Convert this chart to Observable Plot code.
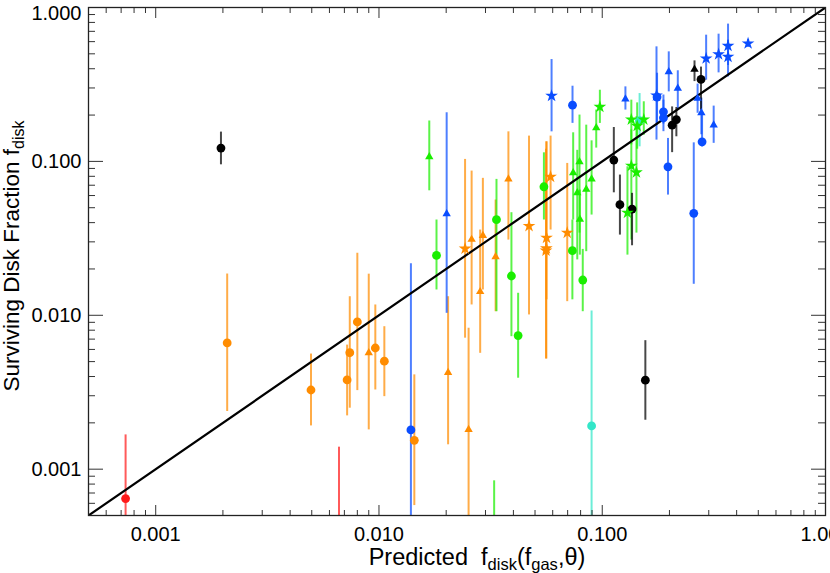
<!DOCTYPE html>
<html><head><meta charset="utf-8">
<script src="https://cdn.jsdelivr.net/npm/d3@7"></script>
<script src="https://cdn.jsdelivr.net/npm/@observablehq/plot@0.6"></script>
<style>
html,body{margin:0;padding:0;background:#fff;overflow:hidden;}
</style></head><body><div id="chart"></div>
<script>
// [predicted fdisk, surviving fdisk, lower error, upper error, marker]
const redPoints = [
  [0.000733, 0.000644, 0.0003, 0.00167, "circle"],
  [0.00662, 0.00025, 0.0001, 0.00139, "circle"]
];
const orangePoints = [
  [0.00209, 0.00661, 0.00237, 0.01854, "circle"],
  [0.00496, 0.00327, 0.00191, 0.0056, "circle"],
  [0.0072, 0.0038, 0.00222, 0.0064, "circle"],
  [0.0074, 0.00571, 0.00249, 0.0132, "circle"],
  [0.0080, 0.00905, 0.00324, 0.0253, "circle"],
  [0.0090, 0.00571, 0.0018, 0.0185, "triangle"],
  [0.00963, 0.00613, 0.00327, 0.01167, "circle"],
  [0.01057, 0.00503, 0.00296, 0.00843, "circle"],
  [0.0144, 0.00154, 0.00058, 0.0041, "circle"],
  [0.0204, 0.00424, 0.00144, 0.0132, "triangle"],
  [0.0252, 0.00181, 0.0002, 0.00824, "triangle"],
  [0.0243, 0.0271, 0.0071, 0.103, "star"],
  [0.026, 0.0311, 0.01167, 0.0865, "triangle"],
  [0.0292, 0.0329, 0.0146, 0.0776, "triangle"],
  [0.0284, 0.01423, 0.00566, 0.0358, "triangle"],
  [0.0333, 0.024, 0.01055, 0.0561, "triangle"],
  [0.038, 0.0767, 0.0308, 0.1556, "triangle"],
  [0.047, 0.038, 0.01005, 0.146, "star"],
  [0.0587, 0.0794, 0.0358, 0.146, "star"],
  [0.0563, 0.0319, 0.0126, 0.134, "star"],
  [0.0562, 0.0272, 0.0052, 0.134, "star"],
  [0.0560, 0.0263, 0.0052, 0.12, "star"],
  [0.0697, 0.0344, 0.01226, 0.097, "star"]
];
const greenPoints = [
  [0.0168, 0.107, 0.0644, 0.183, "triangle"],
  [0.0181, 0.0245, 0.0146, 0.0416, "circle"],
  [0.0336, 0.0418, 0.01055, 0.0764, "circle"],
  [0.0392, 0.0180, 0.00726, 0.0464, "circle"],
  [0.042, 0.00738, 0.0039, 0.0139, "circle"],
  [0.0328, 0.00025, 0.0001, 0.00084, "circle"],
  [0.0548, 0.0684, 0.0416, 0.1137, "circle"],
  [0.0735, 0.0263, 0.0126, 0.0416, "circle"],
  [0.0818, 0.01695, 0.01055, 0.0268, "circle"],
  [0.0741, 0.0843, 0.0416, 0.1534, "triangle"],
  [0.0773, 0.0625, 0.0229, 0.118, "triangle"],
  [0.0791, 0.0994, 0.0342, 0.2, "triangle"],
  [0.0848, 0.0658, 0.0259, 0.172, "triangle"],
  [0.0896, 0.0767, 0.0448, 0.136, "triangle"],
  [0.0794, 0.042, 0.0246, 0.0651, "triangle"],
  [0.094, 0.165, 0.122, 0.2155, "triangle"],
  [0.0976, 0.226, 0.1765, 0.29, "star"],
  [0.135, 0.187, 0.128, 0.25, "star"],
  [0.1434, 0.170, 0.12, 0.24, "star"],
  [0.1535, 0.187, 0.148, 0.244, "star"],
  [0.135, 0.0936, 0.0308, 0.16, "star"],
  [0.1423, 0.0848, 0.0342, 0.195, "star"],
  [0.1297, 0.0464, 0.0246, 0.0922, "star"]
];
const cyanPoints = [
  [0.0896, 0.00191, 0.0002, 0.01067, "circle"],
  [0.147, 0.184, 0.1244, 0.276, "circle"]
];
const bluePoints = [
  [0.0139, 0.0018, 0.0002, 0.0216, "circle"],
  [0.0201, 0.0457, 0.0103, 0.207, "triangle"],
  [0.0593, 0.2667, 0.1556, 0.459, "star"],
  [0.0736, 0.232, 0.1766, 0.308, "circle"],
  [0.127, 0.254, 0.2155, 0.305, "triangle"],
  [0.175, 0.268, 0.1375, 0.555, "star"],
  [0.176, 0.262, 0.172, 0.374, "circle"],
  [0.188, 0.210, 0.175, 0.27, "circle"],
  [0.188, 0.192, 0.156, 0.25, "circle"],
  [0.197, 0.0922, 0.0604, 0.141, "circle"],
  [0.1986, 0.382, 0.283, 0.515, "triangle"],
  [0.218, 0.298, 0.2155, 0.388, "triangle"],
  [0.257, 0.046, 0.0159, 0.132, "circle"],
  [0.2674, 0.2565, 0.2055, 0.318, "triangle"],
  [0.278, 0.207, 0.149, 0.258, "triangle"],
  [0.280, 0.134, 0.124, 0.207, "circle"],
  [0.3156, 0.172, 0.131, 0.2287, "triangle"],
  [0.292, 0.4665, 0.337, 0.661, "star"],
  [0.332, 0.497, 0.376, 0.671, "star"],
  [0.366, 0.563, 0.42, 0.78, "star"],
  [0.366, 0.478, 0.354, 0.613, "star"],
  [0.450, 0.584, 0.55, 0.62, "star"]
];
const blackPoints = [
  [0.00196, 0.122, 0.095, 0.155, "circle"],
  [0.156, 0.00379, 0.00208, 0.00684, "circle"],
  [0.1127, 0.102, 0.0625, 0.166, "circle"],
  [0.120, 0.0523, 0.0332, 0.0815, "circle"],
  [0.136, 0.049, 0.0283, 0.062, "circle"],
  [0.2056, 0.172, 0.114, 0.226, "circle"],
  [0.2148, 0.187, 0.1445, 0.224, "circle"],
  [0.259, 0.396, 0.33, 0.45, "triangle"],
  [0.277, 0.341, 0.215, 0.41, "circle"]
];
const groupColors = {
  red: "#ff1a1a", orange: "#ff8c00", green: "#1aee00",
  cyan: "#33e6c8", blue: "#0a4dff", black: "#000000"
};
const majorTicks = [0.001, 0.01, 0.1, 1];
const minorTicks = [2,3,4,5,6,7,8,9].flatMap(m => [0.0001, 0.001, 0.01, 0.1].map(d => m * d)).filter(v => v >= 0.0005 && v < 1);
const domain = [0.0005, 1];
const oneToOne = [0.0005, 1];

const groups = [
  ["red", redPoints], ["orange", orangePoints], ["green", greenPoints],
  ["cyan", cyanPoints], ["blue", bluePoints], ["black", blackPoints]
];
const rows = groups.flatMap(([g, pts]) => pts.map(([x, y, lo, hi, shape]) => ({x, y, lo, hi, shape, color: groupColors[g]})));

const font = "'Liberation Sans', Arial, Helvetica, sans-serif";
const tickStroke = "#333";

const svg = Plot.plot({
  width: 830, height: 573,
  marginLeft: 88, marginRight: 5, marginTop: 7, marginBottom: 58,
  style: {fontFamily: font, background: "#fff", color: "#000"},
  x: {type: "log", domain},
  y: {type: "log", domain},
  color: {type: "identity"},
  marks: [
    Plot.ruleX(rows, {x: "x", y1: "lo", y2: "hi", stroke: "color", strokeWidth: 2, strokeOpacity: 0.72, clip: true}),
    Plot.line(oneToOne, {x: d => d, y: d => d, stroke: "#000", strokeWidth: 2.2, clip: true}),
    Plot.dot(rows.filter(d => d.shape === "circle"), {x: "x", y: "y", fill: "color", r: 4.4, symbol: "circle", clip: true}),
    Plot.dot(rows.filter(d => d.shape === "triangle"), {x: "x", y: "y", fill: "color", r: 3.1, symbol: "triangle", clip: true}),
    Plot.dot(rows.filter(d => d.shape === "star"), {x: "x", y: "y", fill: "color", r: 4.0, symbol: "star", clip: true}),
    Plot.axisY(majorTicks, {anchor: "left", tickSize: -15, tickFormat: () => "", label: null, stroke: tickStroke}),
    Plot.axisY(minorTicks, {anchor: "left", tickSize: -7, tickFormat: () => "", label: null, stroke: tickStroke}),
    Plot.axisY(majorTicks, {anchor: "right", tickSize: -15, tickFormat: () => "", label: null, stroke: tickStroke}),
    Plot.axisY(minorTicks, {anchor: "right", tickSize: -8, tickFormat: () => "", label: null, stroke: tickStroke}),
    Plot.axisX(majorTicks, {anchor: "bottom", tickSize: -10, tickFormat: () => "", label: null, stroke: tickStroke}),
    Plot.axisX(minorTicks, {anchor: "bottom", tickSize: -5, tickFormat: () => "", label: null, stroke: tickStroke}),
    Plot.axisX(majorTicks, {anchor: "top", tickSize: -10, tickFormat: () => "", label: null, stroke: tickStroke}),
    Plot.axisX(minorTicks, {anchor: "top", tickSize: -5, tickFormat: () => "", label: null, stroke: tickStroke}),
    Plot.axisY(majorTicks.filter(v => v < 1), {anchor: "left", tickSize: 0, tickPadding: 7, tickFormat: d3.format(".3f"), label: null, fontSize: 20, fill: "#000"}),
    Plot.axisY(majorTicks.filter(v => v === 1), {anchor: "left", tickSize: 0, tickPadding: 7, dy: 6, tickFormat: d3.format(".3f"), label: null, fontSize: 20, fill: "#000"}),
    Plot.axisX(majorTicks, {anchor: "bottom", tickSize: 0, tickPadding: 11, tickFormat: d3.format(".3f"), label: null, fontSize: 20, fill: "#000"}),
    Plot.frame({stroke: "#222", strokeWidth: 1.3})
  ]
});

const s = d3.select(svg);
const yl = s.append("text")
  .attr("transform", "translate(19,256) rotate(-90)")
  .attr("text-anchor", "middle")
  .attr("font-family", font).attr("font-size", 22.5).attr("fill", "#000");
yl.append("tspan").text("Surviving Disk Fraction f");
yl.append("tspan").attr("font-size", 16).attr("dy", 5).text("disk");

const xl = s.append("text")
  .attr("x", 477).attr("y", 565)
  .attr("text-anchor", "middle")
  .attr("font-family", font).attr("font-size", 23.5).attr("fill", "#000")
  .style("white-space", "pre");
xl.append("tspan").text("Predicted  f");
xl.append("tspan").attr("font-size", 16.5).attr("dy", 5).text("disk");
xl.append("tspan").attr("dy", -5).text("(f");
xl.append("tspan").attr("font-size", 16.5).attr("dy", 5).text("gas");
xl.append("tspan").attr("dy", -5).text(",θ)");

document.getElementById("chart").append(svg);
</script></body></html>
